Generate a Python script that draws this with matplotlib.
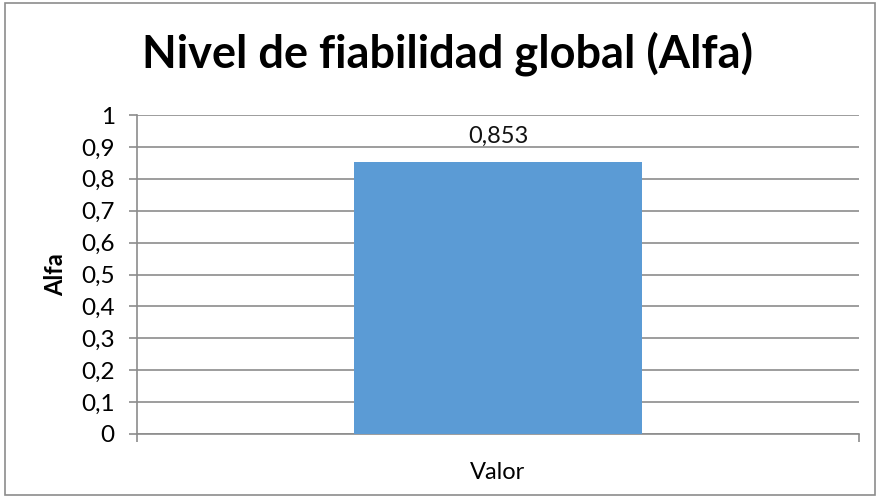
import matplotlib.pyplot as plt
from matplotlib.patches import Rectangle
from matplotlib.ticker import FuncFormatter, MultipleLocator

plt.rcParams['font.family'] = ['Lato', 'DejaVu Sans']

categories = ["Valor"]
values = [0.853]
title = "Nivel de fiabilidad global (Alfa)"

bar_color = "#5B9BD5"
grid_color = "#8C8C8C"


def comma(v, _pos=None):
    return f"{v:g}".replace(".", ",")


fig = plt.figure(figsize=(8.8, 5), dpi=100)
ax = fig.add_axes([137 / 880, 1 - 434 / 500, 722 / 880, 319 / 500])

ax.bar(range(len(categories)), values, width=0.4, color=bar_color, zorder=3)
for i, v in enumerate(values):
    ax.text(i, v + 0.08, f"{v:.3f}".replace(".", ","), ha="center", va="center",
            fontsize=17, color="#111111")

ax.set_xlim(-0.5, len(categories) - 0.5)
ax.set_ylim(0, 1)
ax.yaxis.set_major_locator(MultipleLocator(0.1))
ax.yaxis.set_major_formatter(FuncFormatter(comma))
ax.grid(axis="y", color=grid_color, linewidth=1.2, zorder=0)

# category boundary ticks on x, label in the middle
ax.set_xticks([-0.5, len(categories) - 0.5])
ax.set_xticklabels([])
ax.set_xticks(range(len(categories)), minor=True)
ax.set_xticklabels(categories, minor=True, fontsize=17)
ax.tick_params(axis="x", which="minor", length=0, pad=20)
ax.tick_params(axis="x", which="major", length=6, color=grid_color, width=1.2)
ax.tick_params(axis="y", length=6, color=grid_color, width=1.2, labelsize=17.5, pad=10)

for side in ("top", "right"):
    ax.spines[side].set_visible(False)
for side in ("left", "bottom"):
    ax.spines[side].set_color(grid_color)
    ax.spines[side].set_linewidth(1.2)

ax.set_ylabel("Alfa", fontsize=17, fontweight="bold", labelpad=10)
fig.text(0.5085, 1 - 68 / 500, title, ha="center", va="baseline", fontsize=32.5, fontweight="bold")

fig.patches.append(Rectangle((5 / 880, 5 / 500), 870 / 880, 492 / 500, transform=fig.transFigure,
                             fill=False, edgecolor="#8C8C8C", linewidth=1.2))

fig.savefig("out.png", dpi=100)
